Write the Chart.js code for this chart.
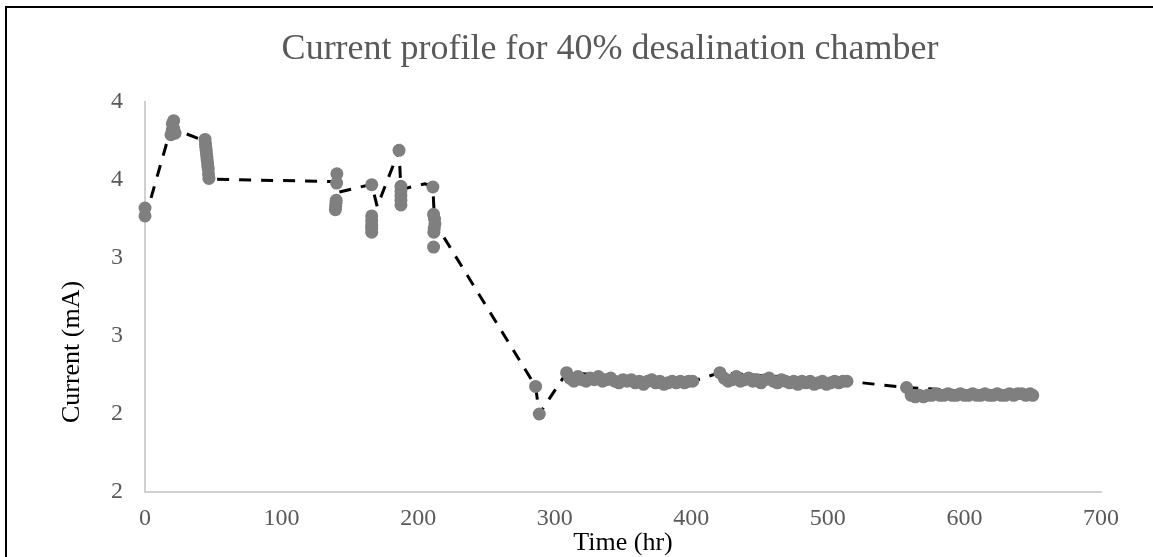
<!DOCTYPE html>
<html>
<head>
<meta charset="utf-8">
<script src="https://cdn.jsdelivr.net/npm/chart.js@4.4.1/dist/chart.umd.min.js"></script>
<style>
  html, body { margin: 0; padding: 0; background: #fff; overflow: hidden; }
  #wrap { position: relative; width: 1153px; height: 557px; }
  #frame { position: absolute; left: 5px; top: 6px; right: 0; bottom: 0;
           border-left: 2px solid #000; border-top: 2px solid #000; pointer-events: none; }
</style>
</head>
<body>
<div id="wrap">
  <canvas id="chart"></canvas>
  <div id="frame"></div>
</div>
<script>
// measured points (hr, mA)
const timeHr = [
  0, 0,
  19, 20, 20, 21, 21, 22,
  44.0, 44.3, 44.5, 44.8, 45.0, 45.3, 45.5, 45.8, 46.0, 46.3, 46.5, 46.8,
  140.5, 140.3, 140.0, 139.8, 139.6, 139.4,
  166, 166, 166, 166, 166, 166,
  186,
  187.4, 187.4, 187.4, 187.4, 187.4,
  210.8,
  211.3, 212, 212.3, 211.8, 211.5, 211.3,
  286, 288.7,
  308.7, 311, 314, 317, 320, 323, 326, 329, 332, 335, 338, 341, 344, 347, 350, 353, 356, 359, 362, 365, 368, 371, 374, 377, 380, 383, 386, 389, 392, 395, 398, 401,
  420.9, 424, 427, 430, 433, 436, 439, 442, 445, 448, 451, 454, 457, 460, 463, 466, 469, 472, 475, 478, 481, 484, 487, 490, 493, 496, 499, 502, 505, 508, 511, 514,
  557.6, 561, 564, 567, 570, 573, 576, 579, 582, 585, 588, 591, 594, 597, 600, 603, 606, 609, 612, 615, 618, 621, 624, 627, 630, 633, 636, 639, 642, 645, 648, 650
];
const currentMA = [
  3.32, 3.27,
  3.79, 3.82, 3.86, 3.88, 3.83, 3.80,
  3.76, 3.73, 3.71, 3.69, 3.67, 3.65, 3.63, 3.61, 3.59, 3.57, 3.54, 3.51,
  3.54, 3.48, 3.37, 3.35, 3.33, 3.31,
  3.47, 3.27, 3.24, 3.21, 3.19, 3.165,
  3.69,
  3.46, 3.43, 3.40, 3.37, 3.34,
  3.455,
  3.28, 3.25, 3.22, 3.19, 3.165, 3.07,
  2.177, 2.0,
  2.265, 2.23, 2.21, 2.24, 2.22, 2.21, 2.23, 2.22, 2.24, 2.21, 2.22, 2.23, 2.21, 2.20, 2.22, 2.21, 2.22, 2.20, 2.21, 2.19, 2.21, 2.22, 2.20, 2.21, 2.19, 2.20, 2.21, 2.20, 2.21, 2.20, 2.21, 2.21,
  2.265, 2.23, 2.21, 2.22, 2.24, 2.21, 2.22, 2.23, 2.21, 2.22, 2.20, 2.22, 2.23, 2.21, 2.20, 2.22, 2.21, 2.20, 2.21, 2.19, 2.21, 2.20, 2.21, 2.19, 2.20, 2.21, 2.19, 2.20, 2.21, 2.20, 2.21, 2.21,
  2.17, 2.12, 2.11, 2.12, 2.11, 2.12, 2.12, 2.13, 2.12, 2.12, 2.13, 2.12, 2.12, 2.13, 2.12, 2.12, 2.13, 2.12, 2.12, 2.13, 2.12, 2.12, 2.13, 2.12, 2.12, 2.13, 2.12, 2.13, 2.13, 2.12, 2.13, 2.12
];

// dashed trend line
const trendX = [0, 16, 20, 44, 47, 140, 141, 166, 170, 186, 187.4, 205, 210.8, 212, 286, 288.7, 308.7, 401, 420.9, 514, 557.6, 650];
const trendY = [3.25, 3.74, 3.83, 3.75, 3.505, 3.49, 3.42, 3.473, 3.33, 3.69, 3.44, 3.475, 3.455, 3.23, 2.177, 2.0, 2.265, 2.21, 2.265, 2.21, 2.17, 2.12];

// axis ticks (Excel shows them rounded to whole numbers)
const xTicks = [0, 100, 200, 300, 400, 500, 600, 700];
const xTickLabels = ["0", "100", "200", "300", "400", "500", "600", "700"];
const yTicks = [1.5, 2, 2.5, 3, 3.5, 4];
const yTickLabels = ["2", "2", "3", "3", "4", "4"];

const chartTitle = "Current profile for 40% desalination chamber";
const xTitle = "Time (hr)";
const yTitle = "Current (mA)";

const serif = '"Liberation Serif", "Times New Roman", serif';

var points = timeHr.map(function (t, i) { return { x: t, y: currentMA[i] }; });
var trend = trendX.map(function (t, i) { return { x: t, y: trendY[i] }; });

// titles are placed by hand, like in the original sheet
const titlesPlugin = {
  id: "titles",
  afterDraw: function (chart) {
    var ctx = chart.ctx;
    var area = chart.chartArea;
    ctx.save();
    ctx.textAlign = "center";
    ctx.textBaseline = "middle";

    ctx.fillStyle = "#595959";
    ctx.font = "36px " + serif;
    ctx.fillText(chartTitle, 610, 50);

    ctx.fillStyle = "#000";
    ctx.font = "26px " + serif;
    ctx.fillText(xTitle, (area.left + area.right) / 2, 543);

    ctx.translate(72, 352);
    ctx.rotate(-Math.PI / 2);
    ctx.fillText(yTitle, 0, 0);
    ctx.restore();
  }
};

const bgPlugin = {
  id: "bg",
  beforeDraw: function (chart) {
    var ctx = chart.ctx;
    ctx.save();
    ctx.fillStyle = "#fff";
    ctx.fillRect(0, 0, chart.width, chart.height);
    ctx.restore();
  }
};

var ctx = document.getElementById("chart").getContext("2d");
var myChart = new Chart(ctx, {
  type: "scatter",
  data: {
    datasets: [
      {
        label: "Current",
        data: points,
        order: 0,
        pointRadius: 6.5,
        pointHoverRadius: 6.5,
        pointBackgroundColor: "#7f7f7f",
        pointBorderWidth: 0,
        showLine: false,
        clip: false,
      },
      {
        label: "Trend",
        data: trend,
        order: 1,
        showLine: true,
        borderColor: "#000",
        borderWidth: 3,
        borderDash: [12, 10],
        pointRadius: 0,
        tension: 0,
        fill: false,
        clip: false,
      },
    ],
  },
  options: {
    responsive: true,
    maintainAspectRatio: false,
    devicePixelRatio: 1,
    animation: false,
    layout: { padding: { top: 102, right: 52, left: 0, bottom: 0 } },
    plugins: {
      legend: { display: false },
      tooltip: { enabled: false },
      title: { display: false },
    },
    scales: {
      x: {
        type: "linear",
        min: 0,
        max: 700,
        afterFit: function (s) { s.height = 65; },
        afterBuildTicks: function (s) { s.ticks = xTicks.map(function (v) { return { value: v }; }); },
        grid: { display: false, drawTicks: false },
        border: { display: true, color: "#d0d0d0", width: 2 },
        ticks: {
          padding: 12,
          color: "#595959",
          font: { family: serif, size: 24 },
          callback: function (v) {
            var i = xTicks.indexOf(v);
            return i >= 0 ? xTickLabels[i] : "";
          },
        },
      },
      y: {
        type: "linear",
        min: 1.5,
        max: 4,
        afterFit: function (s) { s.width = 145; },
        afterBuildTicks: function (s) { s.ticks = yTicks.map(function (v) { return { value: v }; }); },
        grid: { display: false, drawTicks: false },
        border: { display: true, color: "#d0d0d0", width: 2 },
        ticks: {
          padding: 22,
          color: "#595959",
          font: { family: serif, size: 24 },
          callback: function (v) {
            var i = yTicks.indexOf(v);
            return i >= 0 ? yTickLabels[i] : "";
          },
        },
      },
    },
  },
  plugins: [bgPlugin, titlesPlugin],
});
</script>
</body>
</html>
